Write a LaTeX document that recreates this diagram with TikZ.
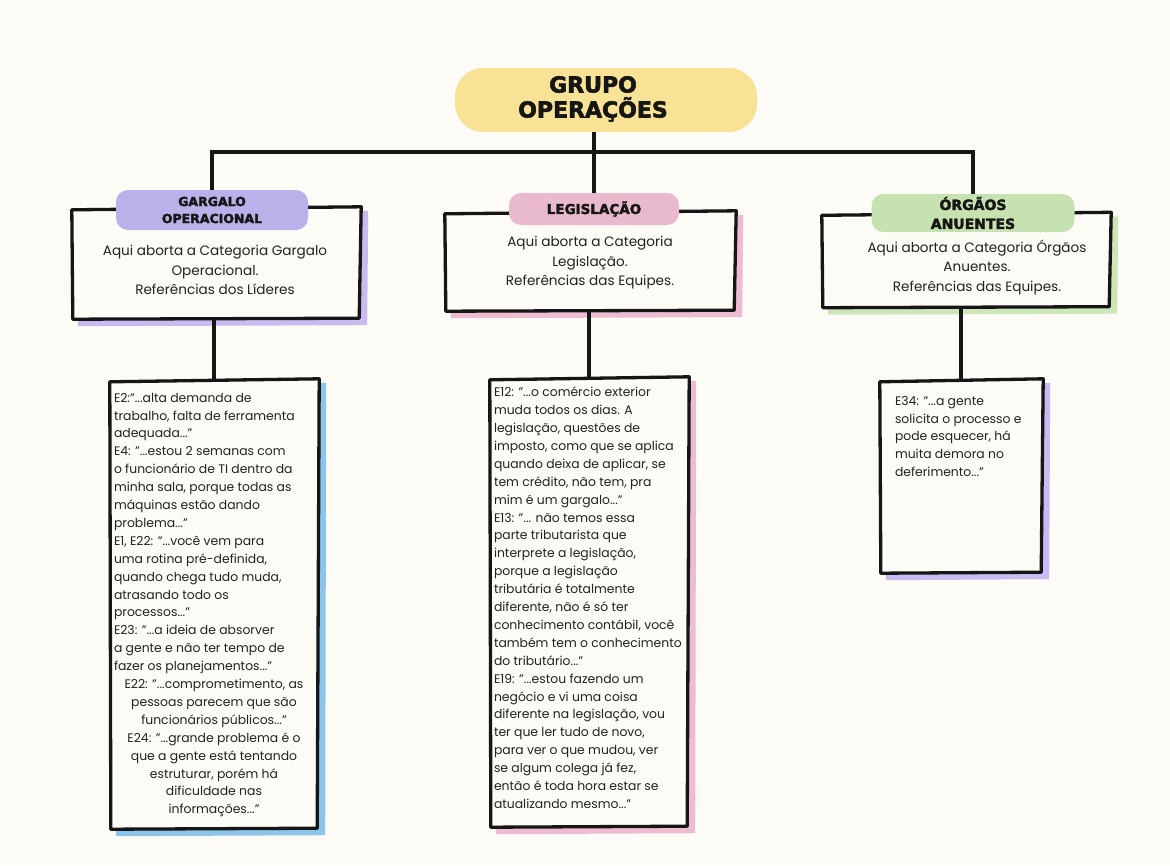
\documentclass[tikz,border=0pt]{standalone}
\usepackage{fontspec}
\setmainfont{Poppins}
\newfontfamily\headfont[FakeBold=2.5]{DejaVu Sans Bold}
\usetikzlibrary{positioning,calc}

\definecolor{paper}{HTML}{FCFBF6}
\definecolor{titleyellow}{HTML}{F8E296}
\definecolor{labpurple}{HTML}{B9B1E9}
\definecolor{labpink}{HTML}{E9B9CD}
\definecolor{labgreen}{HTML}{C6E2B1}
\definecolor{shadepurple}{HTML}{C9BBF2}
\definecolor{shadepink}{HTML}{EDBCD2}
\definecolor{shadegreen}{HTML}{CDE6B8}
\definecolor{shadeblue}{HTML}{8CC4EA}
\definecolor{ink}{HTML}{161616}
\definecolor{bodytext}{HTML}{222222}

% hand drawn frame round an empty node, with a coloured offset shadow
\newcommand{\sketchbox}[2]{%
  \fill[#2] ($(#1.north west)+(9,5)$) -- ($(#1.north east)+(8,3)$)
    -- ($(#1.south east)+(7,7)$) -- ($(#1.south west)+(6,8)$) -- cycle;
  \draw[outline] ($(#1.north west)+(0,2)$) -- ($(#1.north east)+(1,-1)$)
    -- ($(#1.south east)+(-1,0)$) -- ($(#1.south west)+(1,1)$) -- cycle;
}
\newcommand{\midline}[1]{\makebox[200pt]{#1}}

\begin{document}
\begin{tikzpicture}[
    x=1pt, y=-1pt,
    link/.style={draw=ink, line width=3.3pt},
    outline/.style={draw=ink, line width=3.3pt, line join=round, fill=paper},
    frame/.style={rectangle, inner sep=0pt},
    tag/.style={rectangle, rounded corners=12pt, inner sep=0pt, align=center,
        text=ink, font=\headfont\fontsize{12.5}{17}\selectfont},
    cattext/.style={align=center, inner sep=0pt, text=bodytext,
        font=\fontsize{13.6}{19.5}\selectfont},
    quote/.style={align=left, inner sep=0pt, text=bodytext,
        font=\fontsize{12.4}{17.9}\selectfont}
]
    \fill[paper] (0,0) rectangle (1170,865);

    % title
    \node[frame, fill=titleyellow, rounded corners=28pt, minimum width=302pt,
        minimum height=64pt] (titleblob) at (606,100) {};
    \node[align=center, inner sep=0pt, text=ink,
        font=\headfont\fontsize{22}{25}\selectfont] (title) at (593,99) {GRUPO\\OPERAÇÕES};
    \coordinate (hub) at (594,152);

    % categories
    \node[frame, minimum width=288pt, minimum height=110pt] (cat1) at (216,263) {};
    \node[frame, minimum width=290pt, minimum height=98pt] (cat2) at (590,261) {};
    \node[frame, minimum width=288pt, minimum height=93pt] (cat3) at (966,260) {};
    \sketchbox{cat1}{shadepurple}
    \sketchbox{cat2}{shadepink}
    \sketchbox{cat3}{shadegreen}

    \node[tag, fill=labpurple, minimum width=192pt, minimum height=40pt] (lab1) at (212,210) {GARGALO\\OPERACIONAL};
    \node[tag, fill=labpink, minimum width=170pt, minimum height=32pt,
        font=\headfont\fontsize{13.5}{17}\selectfont] (lab2) at (594,209) {LEGISLAÇÃO};
    \node[tag, fill=labgreen, minimum width=203pt, minimum height=38pt,
        font=\headfont\fontsize{14}{19}\selectfont] (lab3) at (973,213) {ÓRGÃOS\\ANUENTES};

    \node[cattext] (cat1 text) at ($(cat1.center)+(-1,7)$) {Aqui aborta a Categoria Gargalo\\Operacional.\\Referências dos Líderes};
    \node[cattext] (cat2 text) at ($(cat2.center)+(0,2)$) {Aqui aborta a Categoria\\Legislação.\\Referências das Equipes.};
    \node[cattext] (cat3 text) at ($(cat3.center)+(11,7)$) {Aqui aborta a Categoria Órgãos\\Anuentes.\\Referências das Equipes.};

    % quotes
    \node[frame, minimum width=208pt, minimum height=448pt] (com1) at (214,604) {};
    \node[frame, minimum width=198pt, minimum height=448pt] (com2) at (589,602) {};
    \node[frame, minimum width=162pt, minimum height=192pt] (com3) at (961,476) {};
    \sketchbox{com1}{shadeblue}
    \sketchbox{com2}{shadepink}
    \sketchbox{com3}{shadepurple}

    \node[quote, anchor=north west] (com1 text) at ($(com1.north west)+(4,13)$) {%
        E2:"...alta demanda de\\trabalho, falta de ferramenta\\adequada..."\\%
        E4: "...estou 2 semanas com\\o funcionário de TI dentro da\\minha sala, porque todas as\\máquinas estão dando\\problema..."\\%
        E1, E22: "...você vem para\\uma rotina pré-definida,\\quando chega tudo muda,\\atrasando todo os\\processos..."\\%
        E23: "...a ideia de absorver\\a gente e não ter tempo de\\fazer os planejamentos..."\\%
        \midline{E22: "...comprometimento, as}\\\midline{pessoas parecem que são}\\\midline{funcionários públicos..."}\\%
        \midline{E24: "...grande problema é o}\\\midline{que a gente está tentando}\\\midline{estruturar, porém há}\\\midline{dificuldade nas}\\\midline{informações..."}};
    \node[quote, anchor=north west] (com2 text) at ($(com2.north west)+(4,9)$) {%
        E12: "...o comércio exterior\\muda todos os dias. A\\legislação, questões de\\imposto, como que se aplica\\quando deixa de aplicar, se\\tem crédito, não tem, pra\\mim é um gargalo..."\\%
        E13: "... não temos essa\\parte tributarista que\\interprete a legislação,\\porque a legislação\\tributária é totalmente\\diferente, não é só ter\\conhecimento contábil, você\\também tem o conhecimento\\do tributário..."\\%
        E19: "...estou fazendo um\\negócio e vi uma coisa\\diferente na legislação, vou\\ter que ler tudo de novo,\\para ver o que mudou, ver\\se algum colega já fez,\\então é toda hora estar se\\atualizando mesmo..."};
    \node[quote, anchor=north west] (com3 text) at ($(com3.north west)+(15,16)$) {%
        E34: "...a gente\\solicita o processo e\\pode esquecer, há\\muita demora no\\deferimento..."};

    % tree
    \draw[link] (titleblob.south -| hub) -- (hub);
    \draw[link] (hub) -| (lab1.north);
    \draw[link] (hub) -- (lab2.north);
    \draw[link] (hub) -| (lab3.north);
    \draw[link] (com1.north |- cat1.south) -- (com1.north);
    \draw[link] (com2.north |- cat2.south) -- (com2.north);
    \draw[link] (com3.north |- cat3.south) -- (com3.north);
\end{tikzpicture}
\end{document}
